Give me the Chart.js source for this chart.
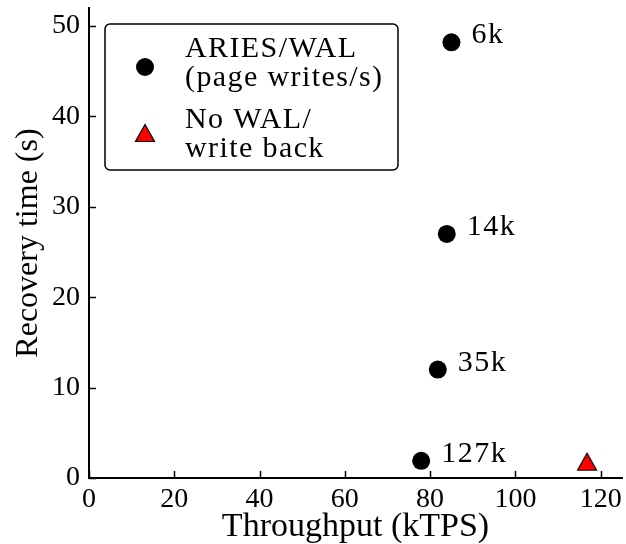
<!DOCTYPE html>
<html><head><meta charset="utf-8">
<script src="https://cdn.jsdelivr.net/npm/chart.js@4"></script>
<style>html,body{margin:0;padding:0;background:#fff}canvas{display:block}</style>
</head><body>
<canvas id="c" width="626" height="544"></canvas>
<script>
// ---- data ----
const ariesThroughput = [85, 83.9, 81.8, 77.9];
const ariesRecovery = [48.2, 27, 12, 1.9];
const ariesLabels = ['6k', '14k', '35k', '127k'];
const noWalThroughput = [116.8];
const noWalRecovery = [1.8];
const xTicks = [0, 20, 40, 60, 80, 100, 120];
const yTicks = [0, 10, 20, 30, 40, 50];
const legendLines = [['ARIES/WAL', '(page writes/s)'], ['No WAL/', 'write back']];
const xTitle = 'Throughput (kTPS)';
const yTitle = 'Recovery time (s)';

const FONT = "'Liberation Serif', 'Times New Roman', serif";

// triangle marker centred on its bounding box (like a matplotlib '^')
const tri = document.createElement('canvas');
tri.width = 22; tri.height = 20;
(function () {
  const t = tri.getContext('2d');
  t.beginPath();
  t.moveTo(11, 1.5); t.lineTo(1.5, 18.5); t.lineTo(20.5, 18.5); t.closePath();
  t.fillStyle = '#ff0000'; t.fill();
  t.lineWidth = 1.2; t.strokeStyle = '#000'; t.stroke();
})();

const ariesPoints = ariesThroughput.map((x, i) => ({ x: x, y: ariesRecovery[i] }));
const noWalPoints = noWalThroughput.map((x, i) => ({ x: x, y: noWalRecovery[i] }));

const inwardTicks = {
  id: 'inwardTicks',
  afterDraw(chart) {
    const { ctx, scales: { x, y }, chartArea } = chart;
    ctx.save();
    ctx.strokeStyle = '#000'; ctx.lineWidth = 1.5;
    xTicks.forEach(v => {
      const px = Math.round(x.getPixelForValue(v)) + 0.5;
      ctx.beginPath(); ctx.moveTo(px, chartArea.bottom); ctx.lineTo(px, chartArea.bottom - 7); ctx.stroke();
    });
    yTicks.forEach(v => {
      const py = Math.round(y.getPixelForValue(v)) + 0.5;
      ctx.beginPath(); ctx.moveTo(chartArea.left, py); ctx.lineTo(chartArea.left + 7, py); ctx.stroke();
    });
    ctx.restore();
  }
};

const pointLabels = {
  id: 'pointLabels',
  afterDatasetsDraw(chart) {
    const ctx = chart.ctx;
    const meta = chart.getDatasetMeta(0);
    ctx.save();
    ctx.fillStyle = '#000';
    ctx.font = '30px ' + FONT;
    ctx.letterSpacing = '1.5px';
    ctx.textAlign = 'left';
    ctx.textBaseline = 'alphabetic';
    meta.data.forEach((el, i) => {
      ctx.fillText(ariesLabels[i], el.x + 20, el.y + 1);
    });
    ctx.restore();
  }
};

const customLegend = {
  id: 'customLegend',
  afterDraw(chart) {
    const ctx = chart.ctx;
    ctx.save();
    ctx.beginPath();
    ctx.roundRect(105, 24, 293, 146, 5);
    ctx.fillStyle = '#fff'; ctx.fill();
    ctx.lineWidth = 1.5; ctx.strokeStyle = '#000'; ctx.stroke();
    // markers
    const ds0 = chart.data.datasets[0];
    ctx.beginPath(); ctx.arc(145, 67, ds0.pointRadius, 0, Math.PI * 2);
    ctx.fillStyle = ds0.backgroundColor; ctx.fill();
    ctx.drawImage(tri, 145 - tri.width / 2, 133 - tri.height / 2);
    // text
    ctx.fillStyle = '#000';
    ctx.font = '30px ' + FONT;
    ctx.letterSpacing = '1.4px';
    ctx.textAlign = 'left';
    ctx.textBaseline = 'alphabetic';
    const baselines = [[57, 86], [128, 157]];
    legendLines.forEach((lines, i) => {
      lines.forEach((t, j) => ctx.fillText(t, 185, baselines[i][j]));
    });
    ctx.restore();
  }
};

new Chart(document.getElementById('c'), {
  type: 'scatter',
  data: {
    datasets: [
      { label: legendLines[0].join(' '), data: ariesPoints, pointStyle: 'circle', pointRadius: 9, pointHoverRadius: 9,
        backgroundColor: '#000000', borderColor: '#000000', borderWidth: 0 },
      { label: legendLines[1].join(''), data: noWalPoints, pointStyle: tri, pointRadius: 10, pointHoverRadius: 10,
        backgroundColor: '#ff0000', borderColor: '#000000', borderWidth: 1 }
    ]
  },
  options: {
    responsive: false,
    animation: false,
    devicePixelRatio: 1,
    events: [],
    clip: false,
    layout: { autoPadding: false, padding: { top: 8, right: 4, left: 0, bottom: 0 } },
    plugins: { legend: { display: false }, tooltip: { enabled: false } },
    scales: {
      x: {
        type: 'linear', min: 0, max: 125,
        afterBuildTicks: s => { s.ticks = xTicks.map(v => ({ value: v })); },
        afterFit: s => { s.height = 66; s.paddingLeft = 0; s.paddingRight = 0; },
        grid: { display: true, drawOnChartArea: false, drawTicks: false },
        border: { display: true, color: '#000', width: 2 },
        ticks: { color: '#000', font: { family: FONT, size: 28 }, padding: 5, maxRotation: 0, autoSkip: false },
        title: { display: true, text: xTitle, color: '#000', font: { family: FONT, size: 34 }, padding: { top: 0, bottom: -3 } }
      },
      y: {
        type: 'linear', min: 0, max: 52,
        afterBuildTicks: s => { s.ticks = yTicks.map(v => ({ value: v })); },
        afterFit: s => { s.width = 89; s.paddingTop = 0; s.paddingBottom = 0; },
        grid: { display: true, drawOnChartArea: false, drawTicks: false },
        border: { display: true, color: '#000', width: 2 },
        ticks: { color: '#000', font: { family: FONT, size: 28 }, padding: 9, autoSkip: false },
        title: { display: true, text: yTitle, color: '#000', font: { family: FONT, size: 32 }, padding: { top: 9, bottom: 0 } }
      }
    }
  },
  plugins: [inwardTicks, pointLabels, customLegend]
});
</script>
</body></html>
